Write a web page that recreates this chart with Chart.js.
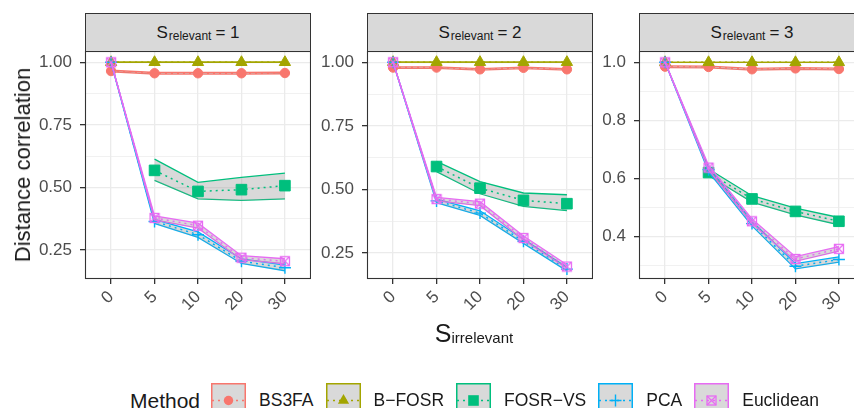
<!DOCTYPE html>
<html lang="en">
<head>
<meta charset="UTF-8">
<title>Distance correlation by S irrelevant</title>
<style>
  html,body{margin:0;padding:0;background:#fff;overflow:hidden}
  body{width:854px;height:408px;position:relative;font-family:"Liberation Sans",Arial,sans-serif;color:#1a1a1a}
  .panel{position:absolute;top:51px}
  .strip{position:absolute;top:13px;height:39px;box-sizing:border-box;border:1px solid #333;
         background:#d9d9d9;text-align:center;line-height:37px;white-space:nowrap}
  .big{font-size:17px}
  .sub{font-size:12px;position:relative;top:2px;margin-left:1px}
  .eq{font-size:17px;margin-left:4px}
  #ytitle{position:absolute;left:23px;top:165px;font-size:22px;white-space:nowrap;
          transform:translate(-50%,-50%) rotate(-90deg)}
  #xtitle{position:absolute;left:474px;top:319px;transform:translateX(-50%);white-space:nowrap}
  #xtitle .S{font-size:25px}
  #xtitle .s2{font-size:15px;position:relative;top:1px}
  #legend{position:absolute;left:130px;top:383px;height:35px;display:flex;align-items:center;white-space:nowrap}
  #legend .ttl{font-size:21px;margin-right:11px}
  #legend .lab{font-size:17.5px;margin:0 12px 0 13px}
  #legend svg{display:block}
</style>
</head>
<body>

<div class="strip" style="left:85px;width:226px"><span class="big">S</span><span class="sub">relevant</span><span class="eq">= 1</span></div>
<div class="strip" style="left:367px;width:226px"><span class="big">S</span><span class="sub">relevant</span><span class="eq">= 2</span></div>
<div class="strip" style="left:639px;width:226px"><span class="big">S</span><span class="sub">relevant</span><span class="eq">= 3</span></div>

<div class="panel" style="left:25px"><canvas id="c0" width="286" height="278"></canvas></div>
<div class="panel" style="left:307px"><canvas id="c1" width="286" height="278"></canvas></div>
<div class="panel" style="left:579px"><canvas id="c2" width="286" height="278"></canvas></div>

<div id="ytitle">Distance correlation</div>
<div id="xtitle"><span class="S">S</span><span class="s2">irrelevant</span></div>
<div id="legend"><span class="ttl">Method</span></div>

<script src="https://cdn.jsdelivr.net/npm/chart.js@4.4.0"></script>
<script>
/* ---------- datos ---------- */
const xLabels = ['0', '5', '10', '20', '30'];
const methods = ['BS3FA', 'B\u2212FOSR', 'FOSR\u2212VS', 'PCA', 'Euclidean'];
const colors  = ['#F8766D', '#A3A500', '#00BF7D', '#00B0F6', '#E76BF3'];

// one row per panel (S relevant = 1, 2, 3)
const bs3faMean = [[0.965, 0.956, 0.956, 0.956, 0.957],
                   [0.979, 0.979, 0.972, 0.978, 0.972],
                   [0.985, 0.984, 0.976, 0.979, 0.977]];
const bs3faLow  = [[0.962, 0.953, 0.953, 0.953, 0.954],
                   [0.976, 0.976, 0.969, 0.975, 0.969],
                   [0.982, 0.981, 0.973, 0.976, 0.974]];
const bs3faHigh = [[0.968, 0.959, 0.959, 0.959, 0.960],
                   [0.982, 0.982, 0.975, 0.981, 0.975],
                   [0.988, 0.987, 0.979, 0.982, 0.980]];

const bfosrMean = [[1, 1, 1, 1, 1], [1, 1, 1, 1, 1], [1, 1, 1, 1, 1]];
const bfosrLow  = [[1, 1, 1, 1, 1], [1, 1, 1, 1, 1], [1, 1, 1, 1, 1]];
const bfosrHigh = [[1, 1, 1, 1, 1], [1, 1, 1, 1, 1], [1, 1, 1, 1, 1]];

const fosrMean = [[null, 0.568, 0.484, 0.491, 0.507],
                  [null, 0.590, 0.505, 0.457, 0.444],
                  [null, 0.620, 0.529, 0.486, 0.452]];
const fosrLow  = [[null, 0.528, 0.454, 0.448, 0.454],
                  [null, 0.570, 0.483, 0.433, 0.417],
                  [null, 0.610, 0.518, 0.474, 0.440]];
const fosrHigh = [[null, 0.613, 0.520, 0.540, 0.557],
                  [null, 0.610, 0.531, 0.486, 0.479],
                  [null, 0.632, 0.540, 0.497, 0.465]];

const pcaMean = [[1, 0.364, 0.311, 0.205, 0.179],
                 [1, 0.455, 0.407, 0.296, 0.187],
                 [1, 0.630, 0.444, 0.297, 0.320]];
const pcaLow  = [[1, 0.356, 0.300, 0.196, 0.167],
                 [1, 0.448, 0.398, 0.288, 0.180],
                 [1, 0.622, 0.436, 0.288, 0.311]];
const pcaHigh = [[1, 0.372, 0.322, 0.214, 0.190],
                 [1, 0.462, 0.416, 0.304, 0.194],
                 [1, 0.638, 0.452, 0.306, 0.329]];

const euclidMean = [[1, 0.378, 0.347, 0.219, 0.205],
                    [1, 0.462, 0.444, 0.309, 0.197],
                    [1, 0.637, 0.452, 0.322, 0.357]];
const euclidLow  = [[1, 0.370, 0.337, 0.211, 0.195],
                    [1, 0.455, 0.436, 0.301, 0.190],
                    [1, 0.629, 0.444, 0.314, 0.349]];
const euclidHigh = [[1, 0.386, 0.357, 0.227, 0.215],
                    [1, 0.469, 0.452, 0.317, 0.204],
                    [1, 0.645, 0.460, 0.330, 0.365]];

const yMin = [0.134, 0.148, 0.253];
const yMax = [1.045, 1.044, 1.039];
const yMajor = [[0.25, 0.5, 0.75, 1], [0.25, 0.5, 0.75, 1], [0.4, 0.6, 0.8, 1]];
const yTickLabels = [['0.25', '0.50', '0.75', '1.00'], ['0.25', '0.50', '0.75', '1.00'], ['0.4', '0.6', '0.8', '1.0']];
const yMinor = [[0.375, 0.625, 0.875], [0.375, 0.625, 0.875], [0.3, 0.5, 0.7, 0.9]];

const means = [bs3faMean, bfosrMean, fosrMean, pcaMean, euclidMean];
const lows  = [bs3faLow, bfosrLow, fosrLow, pcaLow, euclidLow];
const highs = [bs3faHigh, bfosrHigh, fosrHigh, pcaHigh, euclidHigh];

/* ---------- simbolos ---------- */
function squareCross(col){
  const c = document.createElement('canvas'); c.width = 12; c.height = 12;
  const g = c.getContext('2d');
  g.strokeStyle = col; g.lineWidth = 1.3;
  g.strokeRect(1.5, 1.5, 9, 9);
  g.beginPath(); g.moveTo(1.5, 1.5); g.lineTo(10.5, 10.5); g.moveTo(10.5, 1.5); g.lineTo(1.5, 10.5); g.stroke();
  return c;
}
const pStyle  = ['circle', 'triangle', 'rect', 'cross', squareCross(colors[4])];
const pRadius = [4.7, 6.5, 7.5, 6, 6];
const RIBBON = 'rgba(150,150,150,0.36)';

const toXY = arr => arr.map((v, i) => ({x: i, y: v}));

/* ---------- borde del panel ---------- */
const panelBorder = {
  id: 'panelBorder',
  afterDraw(chart){
    const {ctx, chartArea: a} = chart;
    ctx.save(); ctx.strokeStyle = '#333'; ctx.lineWidth = 1.1;
    ctx.strokeRect(a.left + 0.5, a.top + 0.5, a.right - a.left - 1, a.bottom - a.top - 1);
    ctx.restore();
  }
};

function makePanel(p){
  const datasets = [];
  methods.forEach((m, k) => {
    const base = 100 - k * 3;
    datasets.push({label: m + ' low', data: toXY(lows[k][p]), borderColor: colors[k], borderWidth: 1.3,
                   pointRadius: 0, fill: false, order: base});
    datasets.push({label: m + ' high', data: toXY(highs[k][p]), borderColor: colors[k], borderWidth: 1.3,
                   pointRadius: 0, fill: '-1', backgroundColor: RIBBON, order: base - 1});
    datasets.push({label: m, data: toXY(means[k][p]), borderColor: colors[k], borderWidth: 1.5,
                   borderDash: [2, 4], pointStyle: pStyle[k], pointRadius: pRadius[k],
                   pointBackgroundColor: colors[k], pointBorderColor: colors[k],
                   pointBorderWidth: k === 3 ? 1.4 : 1, fill: false, order: base - 2});
  });
  const minor = new Set(yMinor[p]);
  return new Chart(document.getElementById('c' + p), {
    type: 'line',
    data: {datasets},
    plugins: [panelBorder],
    options: {
      responsive: false, animation: false,
      layout: {autoPadding: false, padding: 0},
      plugins: {legend: {display: false}, tooltip: {enabled: false}},
      elements: {line: {tension: 0}},
      scales: {
        x: {
          type: 'linear', min: -0.6, max: 4.6,
          afterBuildTicks: s => { s.ticks = xLabels.map((_, i) => ({value: i})); },
          afterFit: s => { s.height = 50; s.paddingLeft = 0; s.paddingRight = 0; },
          border: {display: false},
          grid: {color: '#EBEBEB', lineWidth: 1.3, tickColor: '#333', tickLength: 5},
          ticks: {callback: v => xLabels[v], minRotation: 45, maxRotation: 45, padding: 3,
                  color: '#4D4D4D', font: {family: '"Liberation Sans", Arial, sans-serif', size: 17}}
        },
        y: {
          min: yMin[p], max: yMax[p],
          afterBuildTicks: s => {
            s.ticks = yMajor[p].concat(yMinor[p]).sort((a, b) => a - b).map(v => ({value: v}));
          },
          afterFit: s => { s.width = 60; s.paddingTop = 0; s.paddingBottom = 0; },
          border: {display: false},
          grid: {
            color: '#EBEBEB',
            lineWidth: c => minor.has(c.tick.value) ? 0.7 : 1.3,
            tickColor: c => minor.has(c.tick.value) ? 'rgba(0,0,0,0)' : '#333',
            tickLength: 5
          },
          ticks: {
            callback: v => { const i = yMajor[p].indexOf(v); return i < 0 ? '' : yTickLabels[p][i]; },
            padding: 8, color: '#4D4D4D',
            font: {family: '"Liberation Sans", Arial, sans-serif', size: 17}
          }
        }
      }
    }
  });
}
[0, 1, 2].forEach(makePanel);

/* ---------- leyenda ---------- */
function keySvg(k){
  const c = colors[k];
  let glyph = '';
  if (k === 0) glyph = `<circle cx="17.5" cy="17.5" r="4.7" fill="${c}"/>`;
  if (k === 1) glyph = `<polygon points="17.5,11 23.1,20.8 11.9,20.8" fill="${c}"/>`;
  if (k === 2) glyph = `<rect x="12.2" y="12.2" width="10.6" height="10.6" fill="${c}"/>`;
  if (k === 3) glyph = `<path d="M11.5 17.5H23.5M17.5 11.5V23.5" stroke="${c}" stroke-width="1.4"/>`;
  if (k === 4) glyph = `<rect x="13" y="13" width="9" height="9" fill="none" stroke="${c}" stroke-width="1.3"/>
                        <path d="M13 13L22 22M22 13L13 22" stroke="${c}" stroke-width="1.3"/>`;
  return `<svg width="35" height="35" viewBox="0 0 35 35">
    <rect x="0.75" y="0.75" width="33.5" height="33.5" fill="#d9d9d9" stroke="${c}" stroke-width="1.5"/>
    <line x1="1" y1="17.5" x2="34" y2="17.5" stroke="${c}" stroke-width="1.5" stroke-dasharray="2 4"/>
    ${glyph}</svg>`;
}
const leg = document.getElementById('legend');
methods.forEach((m, k) => {
  const s = document.createElement('span'); s.innerHTML = keySvg(k); leg.appendChild(s);
  const l = document.createElement('span'); l.className = 'lab'; l.textContent = m; leg.appendChild(l);
});
</script>
</body>
</html>
